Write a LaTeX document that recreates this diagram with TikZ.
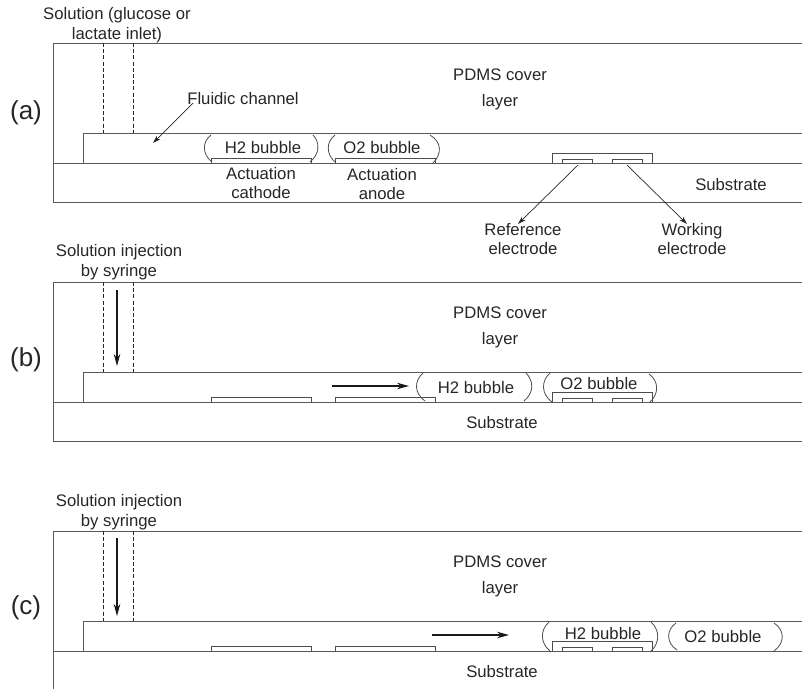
\documentclass[tikz,border=0pt]{standalone}
\usepackage{fontspec}
\setmainfont{Liberation Sans}
\usetikzlibrary{arrows.meta}
\tikzset{
	layer/.style={line width=0.9pt, black!65},
	thinline/.style={line width=0.8pt, black!70},
	inlet/.style={line width=0.7pt, dashed, dash pattern=on 4pt off 2.2pt, black!85},
	pointer/.style={line width=0.7pt, black!85, -{Stealth[length=8pt, width=5pt]}},
	flow/.style={line width=1.1pt, black!90, -{Stealth[length=12pt, width=6.5pt]}},
	lbl/.style={font=\fontsize{16.7}{16.7}\selectfont, text=black!85, inner sep=0pt, align=center, yshift=-1.2pt},
	panel/.style={font=\fontsize{26}{26}\selectfont, text=black!85, inner sep=0pt}
}
\begin{document}
\begin{tikzpicture}[x=1pt, y=-1pt]
	\useasboundingbox (0, 0) rectangle (802, 689);
	
	% Panel (a)
	\node[panel] (panelA) at (26, 113) {(a)};
	\node[lbl] (inletA) at (117, 24) {Solution (glucose or\\[2.8pt]lactate inlet)};
	\draw[layer] (802, 43) -- (53, 43) -- (53, 202) -- (802, 202);
	\draw[layer] (802, 133) -- (83, 133) -- (83, 163);
	\draw[layer] (53, 163) -- (802, 163);
	\draw[inlet] (103, 43) -- (103, 133);
	\draw[inlet] (133, 43) -- (133, 133);
	
	\node[lbl] (coverA) at (500, 88) {PDMS cover\\[9.5pt]layer};
	\node[lbl] (channelA) at (243, 97) {Fluidic channel};
	\coordinate (channelTipA) at (153, 143);
	\draw[pointer] (193, 103) -- (channelTipA);
	
	\draw[thinline] (211, 163) -- (211, 158.5) -- (311, 158.5) -- (311, 163);
	\draw[thinline] (335, 163) -- (335, 158.5) -- (435, 158.5) -- (435, 163);
	\node[lbl] (cathodeA) at (261, 182) {Actuation\\[2.8pt]cathode};
	\node[lbl] (anodeA) at (382, 183) {Actuation\\[2.8pt]anode};
	
	\node[lbl] (hydrogenA) at (263, 146) {H2 bubble};
	\draw[thinline] (211, 135) .. controls (202, 142) and (202, 154) .. (212, 162);
	\draw[thinline] (313, 135) .. controls (320, 142) and (320, 154) .. (310, 162);
	\node[lbl] (oxygenA) at (382, 146) {O2 bubble};
	\draw[thinline] (335, 135) .. controls (326, 142) and (326, 154) .. (335, 162);
	\draw[thinline] (430, 135) .. controls (442, 142) and (442, 154) .. (433, 163);
	
	\draw[thinline] (552, 163) -- (552, 153) -- (652, 153) -- (652, 163);
	\draw[thinline] (562, 163) -- (562, 159) -- (592, 159) -- (592, 163);
	\draw[thinline] (612, 163) -- (612, 159) -- (642, 159) -- (642, 163);
	\node[lbl] (substrateA) at (731, 183) {Substrate};
	\node[lbl] (referenceA) at (523, 238) {Reference\\[2.8pt]electrode};
	\node[lbl] (workingA) at (692, 238) {Working\\[2.8pt]electrode};
	\coordinate (referenceEndA) at (578, 165);
	\coordinate (workingEndA) at (627, 165);
	\draw[pointer] (referenceEndA) -- (518, 224);
	\draw[pointer] (workingEndA) -- (687, 224);
	
	% Panel (b)
	\node[panel] (panelB) at (26, 360) {(b)};
	\node[lbl] (inletB) at (119, 261) {Solution injection\\[2.8pt]by syringe};
	\draw[layer] (802, 282) -- (53, 282) -- (53, 441) -- (802, 441);
	\draw[layer] (802, 372) -- (83, 372) -- (83, 402);
	\draw[layer] (53, 402) -- (802, 402);
	\draw[inlet] (103, 282) -- (103, 372);
	\draw[inlet] (133, 282) -- (133, 372);
	\draw[flow] (117, 290) -- (117, 366);
	
	\node[lbl] (coverB) at (500, 326) {PDMS cover\\[9.5pt]layer};
	\draw[flow] (332, 386) -- (409, 386);
	
	\draw[thinline] (211, 402) -- (211, 397.5) -- (311, 397.5) -- (311, 402);
	\draw[thinline] (335, 402) -- (335, 397.5) -- (435, 397.5) -- (435, 402);
	
	\node[lbl] (hydrogenB) at (476, 386) {H2 bubble};
	\draw[thinline] (423, 373) .. controls (414, 381) and (414, 393) .. (425, 401);
	\draw[thinline] (526, 373) .. controls (534, 381) and (534, 393) .. (524, 401);
	\node[lbl] (oxygenB) at (599, 382) {O2 bubble};
	\draw[thinline] (550, 373) .. controls (541, 381) and (541, 394) .. (552, 402);
	\draw[thinline] (649, 374) .. controls (659, 381) and (659, 394) .. (650, 402);
	
	\draw[thinline] (552, 402) -- (552, 392) -- (652, 392) -- (652, 402);
	\draw[thinline] (562, 402) -- (562, 398) -- (592, 398) -- (592, 402);
	\draw[thinline] (612, 402) -- (612, 398) -- (642, 398) -- (642, 402);
	\node[lbl] (substrateB) at (502, 421) {Substrate};
	
	% Panel (c)
	\node[panel] (panelC) at (26, 608) {(c)};
	\node[lbl] (inletC) at (119, 511) {Solution injection\\[2.8pt]by syringe};
	\draw[layer] (802, 531) -- (53, 531) -- (53, 689);
	\draw[layer] (802, 621) -- (83, 621) -- (83, 651);
	\draw[layer] (53, 651) -- (802, 651);
	\draw[inlet] (103, 531) -- (103, 621);
	\draw[inlet] (133, 531) -- (133, 621);
	\draw[flow] (117, 538) -- (117, 616);
	
	\node[lbl] (coverC) at (500, 575) {PDMS cover\\[9.5pt]layer};
	\draw[flow] (432, 635) -- (509, 635);
	
	\draw[thinline] (211, 651) -- (211, 646.5) -- (311, 646.5) -- (311, 651);
	\draw[thinline] (335, 651) -- (335, 646.5) -- (435, 646.5) -- (435, 651);
	
	\node[lbl] (hydrogenC) at (603, 632) {H2 bubble};
	\draw[thinline] (549, 622) .. controls (540, 630) and (540, 643) .. (550, 651);
	\draw[thinline] (651, 622) .. controls (660, 630) and (660, 643) .. (651, 651);
	\node[lbl] (oxygenC) at (723, 635) {O2 bubble};
	\draw[thinline] (676, 623) .. controls (666, 630) and (666, 643) .. (677, 650);
	\draw[thinline] (774, 623) .. controls (785, 630) and (785, 643) .. (774, 651);
	
	\draw[thinline] (552, 651) -- (552, 641) -- (652, 641) -- (652, 651);
	\draw[thinline] (562, 651) -- (562, 647) -- (592, 647) -- (592, 651);
	\draw[thinline] (612, 651) -- (612, 647) -- (642, 647) -- (642, 651);
	\node[lbl] (substrateC) at (502, 670) {Substrate};
	
\end{tikzpicture}
\end{document}
